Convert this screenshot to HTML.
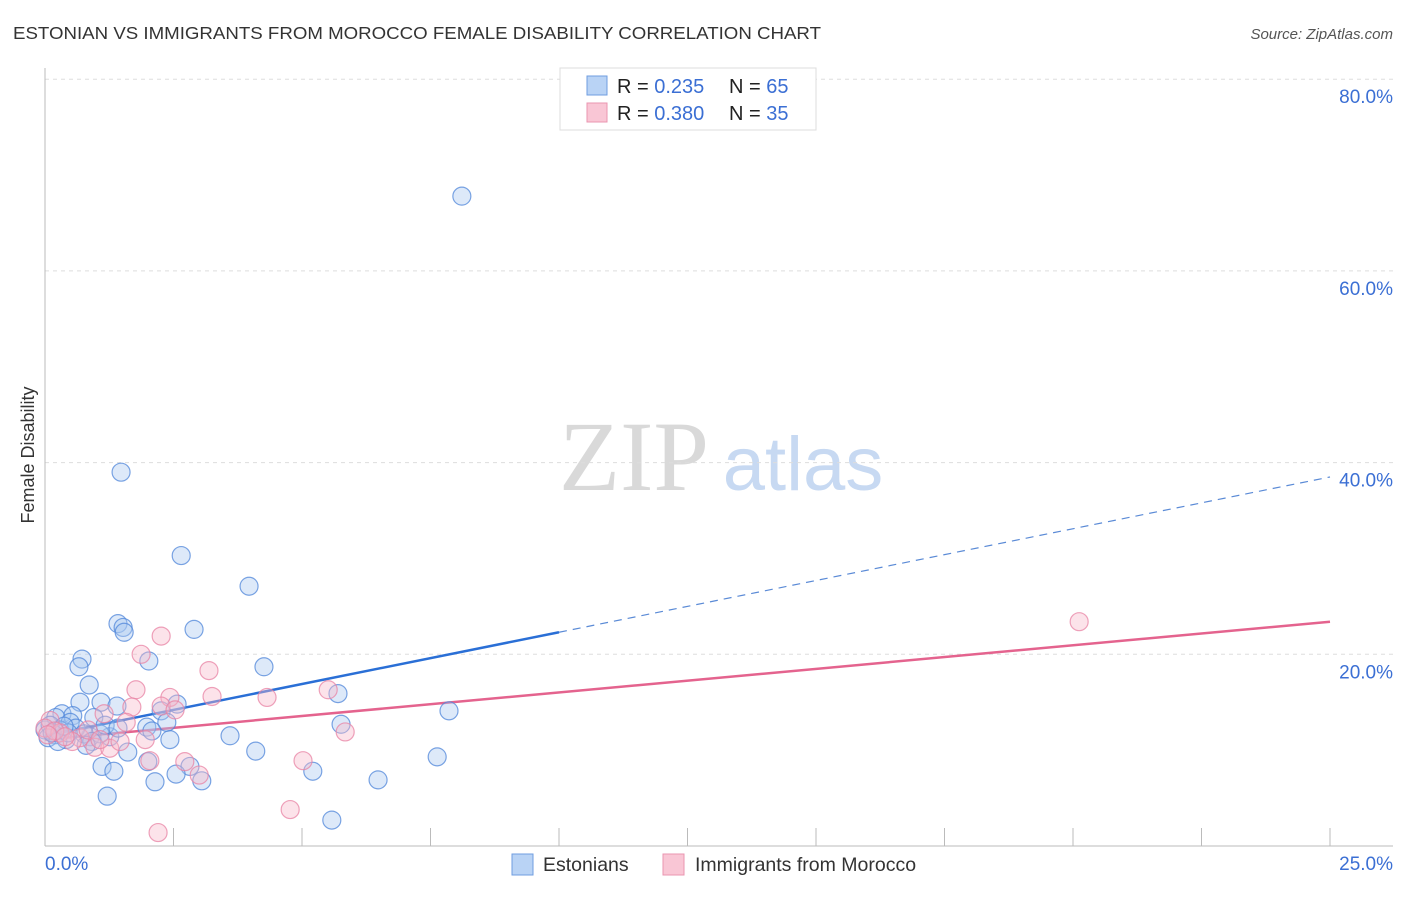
<!DOCTYPE html>
<html><head><meta charset="utf-8"><style>
body{margin:0;background:#fff;font-family:"Liberation Sans",sans-serif}
svg text{font-family:"Liberation Sans",sans-serif}
svg text.serif{font-family:"Liberation Serif",serif}
</style></head><body>
<svg id="chart" width="1406" height="892" viewBox="0 0 1406 892" xmlns="http://www.w3.org/2000/svg">
<text x="13" y="39" font-size="17.5" fill="#333" textLength="808" lengthAdjust="spacingAndGlyphs">ESTONIAN VS IMMIGRANTS FROM MOROCCO FEMALE DISABILITY CORRELATION CHART</text>
<text x="1393" y="39" font-size="15" fill="#555" font-style="italic" text-anchor="end">Source: ZipAtlas.com</text>
<g>
<text class="serif" x="634" y="490" font-size="100" fill="#d9d9d9" text-anchor="middle">ZIP</text>
<text x="803" y="490" font-size="76" fill="#c7d9f2" text-anchor="middle">atlas</text>
</g>
<g id="grid"></g>
<g id="axes"></g>
<g id="trend"></g>
<g id="pts"></g>
<text transform="translate(34,455) rotate(-90)" font-size="18" fill="#333" text-anchor="middle">Female Disability</text>
<g>
<rect x="560" y="68" width="256" height="62" fill="#fff" stroke="#ddd"/>
<rect x="587" y="76" width="20" height="19" fill="#b9d3f5" stroke="#6f9ee0"/>
<rect x="587" y="103" width="20" height="19" fill="#f9c6d5" stroke="#ea95b0"/>
<text x="617" y="93" font-size="20" fill="#222">R = <tspan fill="#3b6fd4">0.235</tspan><tspan x="729">N = </tspan><tspan fill="#3b6fd4">65</tspan></text>
<text x="617" y="120" font-size="20" fill="#222">R = <tspan fill="#3b6fd4">0.380</tspan><tspan x="729">N = </tspan><tspan fill="#3b6fd4">35</tspan></text>
</g>
<g>
<rect x="512" y="854" width="21" height="21" fill="#b9d3f5" stroke="#6f9ee0"/>
<text x="543" y="871" font-size="19.5" fill="#333">Estonians</text></g>
<g>
<rect x="663" y="854" width="21" height="21" fill="#f9c6d5" stroke="#ea95b0"/>
<text x="695" y="871" font-size="19.5" fill="#333">Immigrants from Morocco</text></g>
</svg>
<script>
const blueX=[8.11,1.48,2.65,3.97,1.42,1.52,1.54,2.90,2.02,0.72,0.66,4.26,0.86,5.70,1.09,0.68,1.40,2.57,2.26,7.86,0.33,0.54,0.95,0.21,0.49,2.37,5.76,1.98,3.60,2.08,0,0.19,0.88,0.41,1.26,1.07,2.43,4.10,1.61,7.63,1.11,2.00,1.34,2.82,5.21,2.55,3.05,6.48,2.14,1.21,5.58,0.10,0.29,0.06,0.60,0.76,0.25,0.45,0.91,1.17,1.42,0.14,0.37,0.80];
const blueY=[67.8,39.0,30.3,27.1,23.2,22.8,22.3,22.6,19.3,19.5,18.7,18.7,16.8,15.9,15.0,15.0,14.6,14.8,14.1,14.1,13.8,13.6,13.4,13.4,12.9,12.9,12.7,12.4,11.5,12.0,12.1,11.6,11.4,11.1,11.4,11.7,11.1,9.9,9.8,9.3,8.3,8.8,7.8,8.3,7.8,7.5,6.8,6.9,6.7,5.2,2.7,12.6,12.1,11.3,12.3,11.7,10.9,11.8,10.9,12.6,12.3,11.8,12.5,10.5];
const pinkX=[20.12,2.26,1.87,3.19,1.77,5.51,2.43,3.25,4.32,2.26,1.69,1.15,1.58,2.53,5.84,0.10,0,0.29,0.68,0.53,0.97,1.26,1.46,1.95,2.72,2.04,5.02,3.00,4.77,2.20,0.19,0.39,0.84,0.05,1.07];
const pinkY=[23.4,21.9,20.0,18.3,16.3,16.3,15.5,15.6,15.5,14.6,14.5,13.8,12.9,14.2,11.9,13.1,12.3,11.8,11.3,10.9,10.3,10.2,10.9,11.1,8.8,8.9,8.9,7.4,3.8,1.4,12.0,11.4,12.1,11.6,11.1];
const yTicks=[20,40,60,80];
const xTickLabels=["0.0%","25.0%"];
const blueTrend=[11.5,38.5];
const blueSolidEnd=10;
const pinkTrend=[11.1,23.4];
const NS="http://www.w3.org/2000/svg";
const X0=45,X1=1330,YB=846,YPX=191.7/20;
const sx=v=>X0+(v/25)*(X1-X0);
const sy=v=>YB-v*YPX;
function mk(tag,attrs,parent){const e=document.createElementNS(NS,tag);for(const k in attrs)e.setAttribute(k,attrs[k]);document.getElementById(parent).appendChild(e);return e;}
yTicks.forEach(t=>{
 const g=mk('line',{x1:45,x2:1393,y1:sy(t),y2:sy(t),stroke:'#ddd','stroke-dasharray':'4,4'},'grid');
 
 
 const l=mk('text',{x:1393,y:sy(t)+24,'font-size':19,fill:'#3b6fd4','text-anchor':'end'},'grid');
 l.textContent=t.toFixed(1)+'%';
 
 
});
const ax=mk('line',{x1:45,x2:45,y1:68,y2:YB,stroke:'#bbb'},'axes');


const bx=mk('line',{x1:45,x2:1393,y1:YB,y2:YB,stroke:'#bbb'},'axes');


for(let i=1;i<=10;i++){
 const t=mk('line',{x1:sx(i*2.5),x2:sx(i*2.5),y1:828,y2:YB,stroke:'#bbb'},'axes');
 
 
}
const xl0=mk('text',{x:45,y:870,'font-size':19,fill:'#3b6fd4'},'axes');xl0.textContent=xTickLabels[0];


const xl1=mk('text',{x:1393,y:870,'font-size':19,fill:'#3b6fd4','text-anchor':'end'},'axes');xl1.textContent=xTickLabels[1];


function pts(xs,ys,fill,stroke,name){xs.forEach((x,i)=>{
 const c=mk('circle',{cx:sx(x),cy:sy(ys[i]),r:9,fill:fill,'fill-opacity':0.4,stroke:stroke,'stroke-opacity':0.75,'stroke-width':1.2},'pts');
 
 
});}
pts(blueX,blueY,'#a9c8f0','#4f86d9','estonians-point');
pts(pinkX,pinkY,'#f7b8cb','#e883a4','morocco-point');
const bAt=x=>blueTrend[0]+(blueTrend[1]-blueTrend[0])*x/25;
const t1=mk('line',{x1:sx(0),y1:sy(bAt(0)),x2:sx(blueSolidEnd),y2:sy(bAt(blueSolidEnd)),stroke:'#2a6fd6','stroke-width':2.5},'trend');


const t2=mk('line',{x1:sx(blueSolidEnd),y1:sy(bAt(blueSolidEnd)),x2:sx(25),y2:sy(bAt(25)),stroke:'#5a8ad6','stroke-width':1.2,'stroke-dasharray':'8,6'},'trend');


const t3=mk('line',{x1:sx(0),y1:sy(pinkTrend[0]),x2:sx(25),y2:sy(pinkTrend[1]),stroke:'#e4638e','stroke-width':2.5},'trend');


</script>
</body></html>
